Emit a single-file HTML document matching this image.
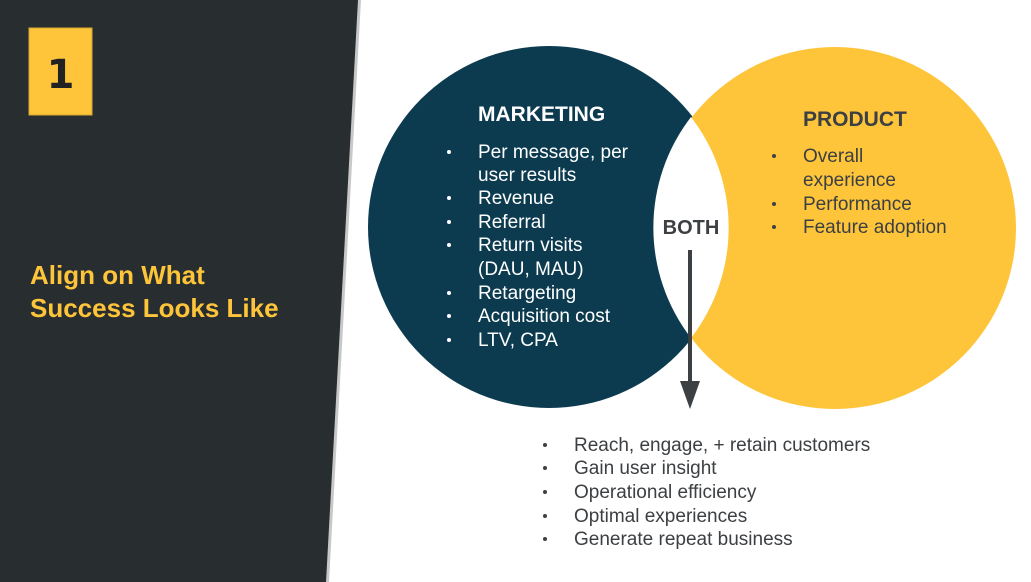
<!DOCTYPE html>
<html><head><meta charset="utf-8"><style>
html,body{margin:0;padding:0;background:#fff;}
svg{display:block;font-family:"Liberation Sans",sans-serif;}
</style></head><body>
<svg width="1031" height="582" viewBox="0 0 1031 582" xmlns="http://www.w3.org/2000/svg">
<rect width="1031" height="582" fill="#fff"/>
<polygon points="0,0 361,0 329,582 0,582" fill="#c8c8c8"/>
<polygon points="0,0 358,0 326,582 0,582" fill="#282e2f"/>
<rect x="29" y="28" width="63" height="87" fill="#fec53b" stroke="#d9a72f" stroke-width="1"/>
<text x="60.5" y="88" font-family="DejaVu Sans, sans-serif" font-weight="bold" font-size="40" fill="#222" text-anchor="middle">1</text>
<g font-weight="bold" font-size="26" fill="#fec53b">
<text x="30" y="284">Align on What</text>
<text x="30" y="317">Success Looks Like</text>
</g>
<circle cx="549" cy="227" r="181" fill="#0c3b50"/>
<circle cx="835" cy="228" r="181" fill="#fec53b"/>
<path d="M691,117 A181,181 0 0,1 691,338 A181,181 0 0,1 691,117 Z" fill="#fff"/>
<text x="478" y="121" font-weight="bold" font-size="21" fill="#fff">MARKETING</text>
<g font-size="19" fill="#fff">
<text x="478" y="158">Per message, per</text>
<text x="478" y="181">user results</text>
<text x="478" y="204">Revenue</text>
<text x="478" y="228">Referral</text>
<text x="478" y="251">Return visits</text>
<text x="478" y="275">(DAU, MAU)</text>
<text x="478" y="299">Retargeting</text>
<text x="478" y="322">Acquisition cost</text>
<text x="478" y="346">LTV, CPA</text>
</g>
<g fill="#fff"><circle cx="449" cy="152" r="2"/><circle cx="449" cy="198" r="2"/><circle cx="449" cy="222" r="2"/><circle cx="449" cy="245" r="2"/><circle cx="449" cy="293" r="2"/><circle cx="449" cy="316" r="2"/><circle cx="449" cy="340" r="2"/></g>
<text x="803" y="126" font-weight="bold" font-size="21" fill="#3c4043">PRODUCT</text>
<g font-size="19" fill="#3c4043">
<text x="803" y="162">Overall</text>
<text x="803" y="186">experience</text>
<text x="803" y="210">Performance</text>
<text x="803" y="233">Feature adoption</text>
</g>
<g fill="#3c4043"><circle cx="774" cy="156" r="2"/><circle cx="774" cy="204" r="2"/><circle cx="774" cy="227" r="2"/></g>
<text x="691" y="234" font-weight="bold" font-size="20" fill="#3c4043" text-anchor="middle">BOTH</text>
<line x1="690" y1="250" x2="690" y2="385" stroke="#3c4043" stroke-width="4"/>
<polygon points="680,381 700,381 690,409" fill="#3c4043"/>
<g font-size="19" fill="#3c4043">
<text x="574" y="451">Reach, engage, + retain customers</text>
<text x="574" y="474">Gain user insight</text>
<text x="574" y="498">Operational efficiency</text>
<text x="574" y="522">Optimal experiences</text>
<text x="574" y="545">Generate repeat business</text>
</g>
<g fill="#3c4043"><circle cx="545" cy="445" r="2"/><circle cx="545" cy="468" r="2"/><circle cx="545" cy="492" r="2"/><circle cx="545" cy="516" r="2"/><circle cx="545" cy="539" r="2"/></g>
</svg>
</body></html>
